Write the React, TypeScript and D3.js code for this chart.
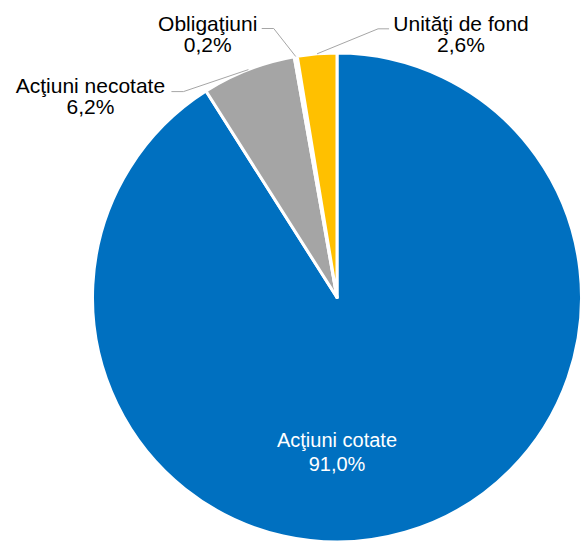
import React from "react";
import * as d3 from "d3";

const categories = ["Acţiuni cotate", "Acţiuni necotate", "Obligaţiuni", "Unităţi de fond"];
const values = [91.0, 6.2, 0.2, 2.6];
const colors = ["#0070C0", "#A5A5A5", "#FFFFFF", "#FFC000"];
// label placement (relative to slice outer-edge midpoint), layout only
const labelDx = [0, -158, -88, 144];
const labelDy = [0, 23, -26, -23];
const lineElbowDx = [0, -65, -22, 61];
const lineEndDx = [0, -77, -34, 72];
const lineDy = [0, 22, -28, -25];

const W = 583;
const H = 543;
const cx = 337;
const cy = 297.5;
const R = 244.5;

const fmt = (v: number) => v.toFixed(1).replace(".", ",") + "%";

export default function App() {
  const pie = d3
    .pie<number>()
    .sort(null)
    .value((d) => d)
    .startAngle(0)
    .endAngle(2 * Math.PI);
  const arcs = pie(values);
  const arc = d3.arc<d3.PieArcDatum<number>>().innerRadius(0).outerRadius(R);
  const font = "'Liberation Sans', Arial, sans-serif";

  return (
    <svg
      width={W}
      height={H}
      style={{ position: "absolute", left: 0, top: 0, background: "#fff" }}
    >
      <g transform={`translate(${cx},${cy})`}>
        {arcs.map((a, i) => (
          <path key={i} d={arc(a) || ""} fill={colors[i]} stroke="#fff" strokeWidth={3} strokeLinejoin="round" />
        ))}
      </g>
      {arcs.map((a, i) => {
        const mid = (a.startAngle + a.endAngle) / 2;
        if (i === 0) {
          const x = cx;
          const y = cy + 149;
          return (
            <text key={i} x={x} y={y} textAnchor="middle" fontFamily={font} fontSize={20} fill="#fff">
              <tspan x={x} y={y}>{categories[i]}</tspan>
              <tspan x={x} y={y + 24.5}>{fmt(values[i])}</tspan>
            </text>
          );
        }
        const ex = cx + R * Math.sin(mid);
        const ey = cy - R * Math.cos(mid);
        const lx = ex + labelDx[i];
        const ly = ey + labelDy[i];
        const ly2 = ey + lineDy[i];
        const pts: [number, number][] = [
          [ex, ey],
          [ex + lineElbowDx[i], ly2],
          [ex + lineEndDx[i], ly2],
        ];
        return (
          <g key={i}>
            <path d={d3.line()(pts) || ""} fill="none" stroke="#A6A6A6" strokeWidth={1} />
            <text textAnchor="middle" fontFamily={font} fontSize={21} fill="#000">
              <tspan x={lx} y={ly}>{categories[i]}</tspan>
              <tspan x={lx} y={ly + 21.6}>{fmt(values[i])}</tspan>
            </text>
          </g>
        );
      })}
    </svg>
  );
}
